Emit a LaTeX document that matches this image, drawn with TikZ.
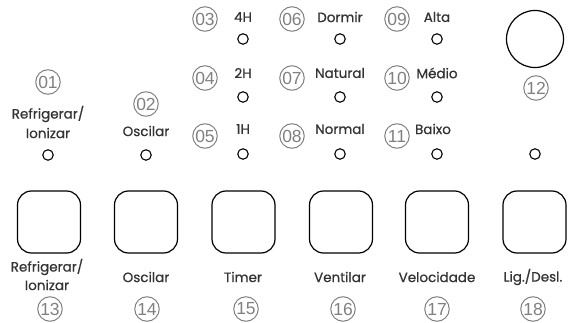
\documentclass[tikz,border=0pt]{standalone}
\usepackage{fontspec}
\setmainfont{Poppins}
\newfontfamily\lblfont{Poppins}[FakeBold=0.7]
\newfontfamily\numfont{Liberation Sans}
\definecolor{txt}{HTML}{333333}
\definecolor{numgray}{HTML}{808080}
\tikzset{
  lbl/.style={font=\lblfont\fontsize{13.5}{15}\selectfont, text=txt, inner sep=0pt, align=center},
  num/.style={circle, draw=numgray, line width=1pt, minimum size=24.5pt, inner sep=0pt,
              font=\numfont\fontsize{17.5}{17}\selectfont, text=numgray},
  led/.style={circle, draw=black, line width=1.1pt, minimum size=10.5pt, inner sep=0pt},
  btn/.style={draw=black, line width=1.2pt, rounded corners=14pt, minimum width=63pt, minimum height=62pt, inner sep=0pt},
  knob/.style={circle, draw=black, line width=1.2pt, minimum size=57pt, inner sep=0pt}
}
\begin{document}
\begin{tikzpicture}[x=1pt,y=-1pt]
\useasboundingbox (0,0) rectangle (576,323);
% column 1
\node[num] (n01) at (48,82) {01};
\node[lbl] (t01a) at (48,114) {Refrigerar/};
\node[lbl] (t01b) at (48,133) {Ionizar};
\node[led] (l01) at (48,155) {};
% column 2
\node[num] (n02) at (146,104) {02};
\node[lbl] (t02) at (146,131) {Oscilar};
\node[led] (l02) at (146,155) {};
% timer column
\node[num] (n03) at (205,19) {03};
\node[lbl] (t03) at (243,17) {4H};
\node[led] (l03) at (243,39) {};
\node[num] (n04) at (205,78) {04};
\node[lbl] (t04) at (243,73) {2H};
\node[led] (l04) at (243,97) {};
\node[num] (n05) at (205,136) {05};
\node[lbl] (t05) at (243,129) {1H};
\node[led] (l05) at (243,154) {};
% mode column
\node[num] (n06) at (292,19) {06};
\node[lbl] (t06) at (340,17) {Dormir};
\node[led] (l06) at (340,39) {};
\node[num] (n07) at (292,78) {07};
\node[lbl] (t07) at (340,73) {Natural};
\node[led] (l07) at (340,97) {};
\node[num] (n08) at (292,136) {08};
\node[lbl] (t08) at (340,129) {Normal};
\node[led] (l08) at (340,154) {};
% speed column
\node[num] (n09) at (397,19) {09};
\node[lbl] (t09) at (437,17) {Alta};
\node[led] (l09) at (437,39) {};
\node[num] (n10) at (397,78) {10};
\node[lbl] (t10) at (437,73) {Médio};
\node[led] (l10) at (437,97) {};
\node[num] (n11) at (397,136) {11};
\node[lbl] (t11) at (433,129) {Baixo};
\node[led] (l11) at (437,154) {};
% power column
\node[knob] (k12) at (535,39) {};
\node[num] (n12) at (536,88) {12};
\node[led] (l12) at (535,154) {};
% buttons
\node[btn] (b13) at (49,222) {};
\node[btn] (b14) at (146,222) {};
\node[btn] (b15) at (243.5,222) {};
\node[btn] (b16) at (341,222) {};
\node[btn] (b17) at (437,222) {};
\node[btn] (b18) at (534.5,222) {};
\node[lbl] (t13a) at (47,267) {Refrigerar/};
\node[lbl] (t13b) at (47,285) {Ionizar};
\node[lbl] (t14) at (146,277) {Oscilar};
\node[lbl] (t15) at (243,277) {Timer};
\node[lbl] (t16) at (340,277) {Ventilar};
\node[lbl] (t17) at (437,277) {Velocidade};
\node[lbl] (t18) at (533,277) {Lig./Desl.};
\node[num] (n13) at (50,309) {13};
\node[num] (n14) at (147,309) {14};
\node[num] (n15) at (246,309) {15};
\node[num] (n16) at (343,309) {16};
\node[num] (n17) at (437,309) {17};
\node[num] (n18) at (533,309) {18};
\end{tikzpicture}
\end{document}
